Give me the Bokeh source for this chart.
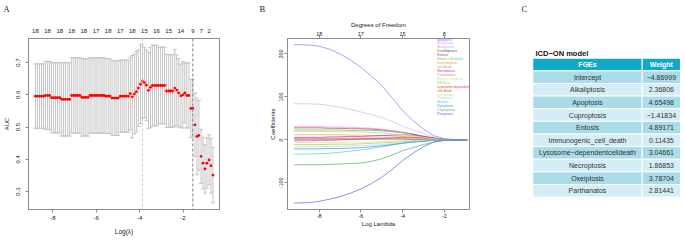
from bokeh.plotting import figure
from bokeh.layouts import row, column
from bokeh.models import (ColumnDataSource, Whisker, TeeHead, Span, Label,
                          LinearAxis, FixedTicker, Range1d)
from bokeh.embed import file_html
from bokeh.resources import INLINE
from bokeh.core.properties import value

FONT = "Liberation Sans"
SERIF = "Liberation Serif"
TXT = "#222222"
BOX = "#8c8c8c"

# ---------------- Panel A data: cross-validated AUC ----------------
log_lambda = [-8.80, -8.71, -8.61, -8.52, -8.43, -8.34, -8.24, -8.15, -8.06, -7.96,
              -7.87, -7.78, -7.68, -7.59, -7.50, -7.41, -7.31, -7.22, -7.13, -7.03,
              -6.94, -6.85, -6.75, -6.66, -6.57, -6.48, -6.38, -6.29, -6.20, -6.10,
              -6.01, -5.92, -5.82, -5.73, -5.64, -5.55, -5.45, -5.36, -5.27, -5.17,
              -5.08, -4.99, -4.89, -4.80, -4.71, -4.62, -4.52, -4.43, -4.34, -4.24,
              -4.15, -4.06, -3.96, -3.87, -3.78, -3.69, -3.59, -3.50, -3.41, -3.31,
              -3.22, -3.13, -3.03, -2.94, -2.85, -2.76, -2.66, -2.57, -2.48, -2.38,
              -2.29, -2.20, -2.10, -2.01, -1.92, -1.83, -1.73, -1.64, -1.55, -1.45,
              -1.36, -1.27, -1.17, -1.08, -0.99, -0.90, -0.80, -0.71, -0.62]
auc_mean = [0.596, 0.596, 0.596, 0.596, 0.596, 0.598, 0.598, 0.598, 0.591, 0.591,
            0.591, 0.591, 0.591, 0.586, 0.586, 0.586, 0.586, 0.586, 0.598, 0.598,
            0.598, 0.598, 0.598, 0.592, 0.592, 0.592, 0.592, 0.598, 0.598, 0.598,
            0.598, 0.598, 0.598, 0.598, 0.598, 0.596, 0.596, 0.596, 0.590, 0.590,
            0.590, 0.590, 0.596, 0.596, 0.596, 0.596, 0.596, 0.604, 0.594, 0.603,
            0.610, 0.621, 0.633, 0.643, 0.638, 0.630, 0.614, 0.623, 0.629, 0.629,
            0.629, 0.629, 0.629, 0.629, 0.629, 0.612, 0.612, 0.612, 0.612, 0.621,
            0.615, 0.606, 0.597, 0.600, 0.606, 0.598, 0.598, 0.558, 0.558, 0.507,
            0.471, 0.474, 0.409, 0.388, 0.370, 0.388, 0.398, 0.380, 0.351]
auc_se = [0.100, 0.100, 0.100, 0.100, 0.100, 0.106, 0.106, 0.106, 0.109, 0.109,
          0.109, 0.109, 0.109, 0.114, 0.114, 0.114, 0.114, 0.114, 0.117, 0.117,
          0.117, 0.117, 0.117, 0.120, 0.120, 0.120, 0.120, 0.117, 0.117, 0.117,
          0.117, 0.117, 0.117, 0.117, 0.117, 0.116, 0.116, 0.116, 0.116, 0.116,
          0.116, 0.116, 0.112, 0.112, 0.112, 0.112, 0.112, 0.113, 0.128, 0.124,
          0.125, 0.119, 0.122, 0.115, 0.110, 0.110, 0.118, 0.125, 0.126, 0.125,
          0.125, 0.119, 0.119, 0.119, 0.119, 0.113, 0.113, 0.113, 0.113, 0.120,
          0.109, 0.106, 0.099, 0.103, 0.093, 0.101, 0.101, 0.090, 0.090, 0.099,
          0.119, 0.108, 0.084, 0.080, 0.075, 0.078, 0.078, 0.085, 0.086]
df_index = [0, 6, 12, 18, 24, 30, 36, 42, 48, 54, 60, 66, 72, 78, 82, 86]
df_labels = ["18", "18", "18", "18", "18", "17", "18", "17", "18", "15", "16", "15", "14", "9", "7", "2"]
lambda_min_log = -3.87
lambda_1se_log = -1.55
a_xticks = [-8, -6, -4, -2]
a_yticks = [0.3, 0.4, 0.5, 0.6, 0.7]

# ---------------- Panel B data: LASSO coefficient paths ----------------
path_loglambda = [-9.2, -8.5, -8, -7.5, -7, -6.5, -6, -5.5, -5, -4.5, -4, -3.5, -3, -2.5, -2, -1.5, -0.9]
path_names = ["Apoptosis", "Autophagy", "Alkaliptosis", "Disulfidptosis", "Entosis",
              "Entotic cell death", "Immunogenic cell death", "Necroptosis", "Parthanatos",
              "Netotic cell death", "NETosis", "Lysosome dependent cell death", "Ferroptosis",
              "Oxeiptosis", "Anoikis", "Pyroptosis", "Cuproptosis", "Paraptosis"]
coef_apoptosis = [222, 221, 218, 211, 200, 186, 169, 149, 127, 98, 68, 45, 25, 10, 3, 0.5, 0]
coef_autophagy = [84, 84, 83, 80, 76, 71, 65, 59, 52, 43, 32, 23, 15, 7, 2, 0, 0]
coef_alkaliptosis = [31, 31, 31, 30, 30, 29, 28, 27, 25, 22, 18, 13, 8, 4, 1, 0, 0]
coef_disulfidptosis = [2, 2, 2, 2, 2, 2, 2, 2, 2, 2, 2, 1, 1, 0, 0, 0, 0]
coef_entosis = [28, 28, 28, 27, 27, 26, 26, 25, 23, 20, 17, 13, 8, 4, 1, 0, 0]
coef_entotic = [23, 23, 23, 23, 23, 22, 22, 22, 21, 19, 17, 14, 9, 5, 1, 0, 0]
coef_immunogenic = [12, 12, 12, 12, 12, 11, 11, 10, 10, 9, 8, 6, 4, 2, 0, 0, 0]
coef_necroptosis = [6, 6, 6, 7, 7, 8, 8, 9, 10, 11, 12, 11, 8, 4, 1, 0, 0]
coef_parthanatos = [4, 4, 4, 4, 4, 4, 4, 4, 4, 4, 4, 4, 3, 2, 0, 0, 0]
coef_netotic = [-6, -6, -6, -6, -6, -5, -5, -5, -4, -3, -2, -1, 0, 0, 0, 0, 0]
coef_netosis = [-11, -11, -11, -10, -10, -10, -9, -8, -7, -6, -4, -3, -2, -1, 0, 0, 0]
coef_lysosome = [-2, -2, -1, -1, 0, 1, 2, 3, 4, 5, 6, 6, 5, 3, 1, 0, 0]
coef_ferroptosis = [20, 20, 20, 19, 19, 19, 18, 17, 16, 14, 12, 9, 6, 3, 1, 0, 0]
coef_oxeiptosis = [-16, -16, -16, -15, -15, -14, -13, -12, -11, -9, -7, -5, -3, -1, 0, 0, 0]
coef_anoikis = [-33, -33, -32, -31, -29, -26, -23, -20, -16, -12, -7, -5, -3, -1, 0, 0, 0]
coef_pyroptosis = [-21, -21, -21, -20, -20, -19, -18, -16, -14, -11, -8, -5, -3, -1, 0, 0, 0]
coef_cuproptosis = [-58, -58, -58, -57, -56, -55, -54, -50, -44, -35, -25, -18, -11, -5, -1, 0, 0]
coef_paraptosis = [-147, -146, -143, -138, -132, -124, -114, -102, -87, -69, -48, -31, -16, -5, -1, 0, 0]
path_colors = ["#a47cf5", "#e2b6ee", "#e0a0ee", "#5a5a5a", "#e2346e", "#62cf62", "#f2a848",
               "#d42ad4", "#c69494", "#d6e39c", "#a6d448", "#f04848", "#b4de76", "#c2d2e2",
               "#5fd0e2", "#4a94f2", "#62b266", "#6a6af2"]
legend_rows = ["Apoptosis", "Autophagy", "Alkaliptosis", "Disulfidptosis", "Entosis",
               "Entotic cell death", "Immunogenic", "cell death", "Necroptosis", "Parthanatos",
               "Netotic cell death", "NETosis", "Lysosome dependent", "cell death", "Ferroptosis",
               "Oxeiptosis", "Anoikis", "Pyroptosis", "Cuproptosis", "Paraptosis"]
legend_row_colors = ["#a47cf5", "#d9b3f2", "#e3a3ee", "#5a5a5a", "#e2346e", "#62cf62", "#f2a848",
                     "#e0a020", "#d42ad4", "#c69494", "#d6e39c", "#a6d448", "#f04848", "#e04a20",
                     "#c4e486", "#c2d2e2", "#5fd0e2", "#4a94f2", "#62b266", "#6a6af2"]
b_xticks = [-8, -6, -4, -2]
b_dof_labels = ["18", "17", "15", "8"]
b_yticks = [-100, 0, 100, 200]

# ---------------- Panel C data: model table ----------------
table_title = "ICD\u2212ON model"
table_header = ["FGEs", "Weight"]
fge_names = ["Intercept", "Alkaliptosis", "Apoptosis", "Cuproptosis", "Entosis",
             "Immunogenic_cell_death", "Lysosome\u2212dependentcelldeath", "Necroptosis",
             "Oxeiptosis", "Parthanatos"]
fge_weights = [-4.86999, 2.36806, 4.65498, -1.41834, 4.89171, 0.11435, 3.04661, 1.86853, 3.78704, 2.81441]
panel_letters = ["A", "B", "C"]


def style_axis(ax, size="6px"):
    ax.axis_line_color = BOX
    ax.major_tick_line_color = BOX
    ax.minor_tick_line_color = None
    ax.major_tick_out = 3
    ax.major_tick_in = 0
    ax.major_label_text_font = FONT
    ax.major_label_text_font_size = size
    ax.major_label_text_color = TXT
    ax.axis_label_text_font = FONT
    ax.axis_label_text_font_style = "normal"
    ax.axis_label_text_color = TXT


def no_align(p):
    if hasattr(p, "frame_align"):
        p.frame_align = False


STRIP_H = 14
ROW_H = 226
BORDER_T, BORDER_B = 24, 31

# ================= Letter strip =================
strip = figure(width=685, height=STRIP_H, x_range=Range1d(0, 685), y_range=Range1d(STRIP_H, 0),
               output_backend="svg", toolbar_location=None, title=None,
               x_axis_type=None, y_axis_type=None,
               min_border_left=0, min_border_right=0, min_border_top=0, min_border_bottom=0)
strip.grid.visible = False
strip.outline_line_color = None
no_align(strip)
LETTER_X = [3, 259, 521]
LETTER_Y = [8, 8, 8]
strip.text(x=LETTER_X, y=LETTER_Y, text=panel_letters, text_font=value(SERIF),
           text_font_size="8.5px", text_color=TXT, text_baseline="middle", text_align="left")

# ================= Panel A =================
AX0, AX1, AY0, AY1 = -9.12, -0.32, 0.244, 0.775
pA = figure(width=258, height=ROW_H, x_range=Range1d(AX0, AX1), y_range=Range1d(AY0, AY1),
            output_backend="svg", toolbar_location=None, title=None,
            min_border_left=28, min_border_right=39, min_border_top=BORDER_T, min_border_bottom=BORDER_B)
pA.grid.visible = False
pA.outline_line_color = BOX

upper = [m + s for m, s in zip(auc_mean, auc_se)]
lower = [m - s for m, s in zip(auc_mean, auc_se)]
srcA = ColumnDataSource(dict(x=log_lambda, y=auc_mean, upper=upper, lower=lower))
EB = "#c4c4c4"
pA.add_layout(Whisker(source=srcA, base="x", upper="upper", lower="lower",
                      line_color=EB, line_width=1,
                      upper_head=TeeHead(size=4, line_color=EB, line_width=1),
                      lower_head=TeeHead(size=4, line_color=EB, line_width=1)))
pA.add_layout(Span(location=lambda_min_log, dimension="height", line_color="#cfcfcf",
                   line_dash="3 2", line_width=1))
pA.add_layout(Span(location=lambda_1se_log, dimension="height", line_color="#808080",
                   line_dash="3 2", line_width=1))
pA.scatter("x", "y", source=srcA, size=2.8, fill_color="#ff0000", line_color=None)

style_axis(pA.xaxis[0])
pA.xaxis.ticker = FixedTicker(ticks=a_xticks)
pA.xaxis.major_label_overrides = {t: str(t) for t in a_xticks}
pA.xaxis.major_label_standoff = 3
pA.xaxis.axis_label = "Log(\u03bb)"
pA.xaxis.axis_label_text_font_size = "6.5px"
pA.xaxis.axis_label_standoff = 5

style_axis(pA.yaxis[0])
pA.yaxis.ticker = FixedTicker(ticks=a_yticks)
pA.yaxis.major_label_overrides = {t: str(t) for t in a_yticks}
pA.yaxis.major_label_orientation = "vertical"
pA.yaxis.major_label_standoff = 5
pA.yaxis.axis_label = "AUC"
pA.yaxis.axis_label_text_font_size = "6px"
pA.yaxis.axis_label_standoff = 4

df_x = [log_lambda[i] for i in df_index]
topA = LinearAxis(ticker=FixedTicker(ticks=df_x),
                  major_label_overrides=dict(zip(df_x, df_labels)))
style_axis(topA)
topA.axis_line_color = None
topA.major_tick_line_color = None
topA.major_tick_out = 0
topA.major_label_standoff = 6
pA.add_layout(topA, "above")

# ================= Panel B =================
BX0, BX1, BY0, BY1 = -9.52, -0.79, -162, 236
B_W, B_L, B_R = 242, 29, 31
pB = figure(width=B_W, height=ROW_H, x_range=Range1d(BX0, BX1), y_range=Range1d(BY0, BY1),
            output_backend="svg", toolbar_location=None, title=None,
            min_border_left=B_L, min_border_right=B_R, min_border_top=BORDER_T, min_border_bottom=BORDER_B)
pB.grid.visible = False
pB.outline_line_color = BOX

paths = [coef_apoptosis, coef_autophagy, coef_alkaliptosis, coef_disulfidptosis, coef_entosis,
         coef_entotic, coef_immunogenic, coef_necroptosis, coef_parthanatos, coef_netotic,
         coef_netosis, coef_lysosome, coef_ferroptosis, coef_oxeiptosis, coef_anoikis,
         coef_pyroptosis, coef_cuproptosis, coef_paraptosis]
srcB = ColumnDataSource(dict(xs=[path_loglambda] * len(paths), ys=paths, color=path_colors,
                             name=path_names))
pB.multi_line("xs", "ys", source=srcB, line_color="color", line_width=1, line_alpha=0.75)

# legend text column (frame-pixel placement converted to data units)
FW_B = B_W - B_L - B_R
FH = ROW_H - BORDER_T - BORDER_B
LEG_PX, LEG_PY0, LEG_STEP = 436.7 - 287, 39.0 - 38, 3.93
leg_x = [BX0 + LEG_PX * (BX1 - BX0) / FW_B] * len(legend_rows)
leg_y = [BY1 - (LEG_PY0 + k * LEG_STEP) * (BY1 - BY0) / FH for k in range(len(legend_rows))]
pB.text(x=leg_x, y=leg_y, text=legend_rows,
        text_color=legend_row_colors, text_font=value(FONT), text_font_size="3.4px",
        text_baseline="middle", text_align="left")

style_axis(pB.xaxis[0], "5.5px")
pB.xaxis.ticker = FixedTicker(ticks=b_xticks)
pB.xaxis.major_label_overrides = {t: str(t) for t in b_xticks}
pB.xaxis.major_label_standoff = 1
pB.xaxis.axis_label = "Log Lambda"
pB.xaxis.axis_label_text_font_size = "6px"
pB.xaxis.axis_label_standoff = 0

style_axis(pB.yaxis[0], "5.5px")
pB.yaxis.ticker = FixedTicker(ticks=b_yticks)
pB.yaxis.major_label_overrides = {t: str(t) for t in b_yticks}
pB.yaxis.major_label_orientation = "vertical"
pB.yaxis.major_label_standoff = 1
pB.yaxis.axis_label = "Coefficients"
pB.yaxis.axis_label_text_font_size = "6px"
pB.yaxis.axis_label_standoff = 1

topB = LinearAxis(ticker=FixedTicker(ticks=b_xticks),
                  major_label_overrides=dict(zip(b_xticks, b_dof_labels)),
                  axis_label="Degrees of Freedom")
style_axis(topB, "5.5px")
topB.major_label_standoff = 0
topB.axis_label_text_font_size = "6px"
topB.axis_label_standoff = 1
pB.add_layout(topB, "above")

# ================= Panel C =================
C_W = 185
CX0, CX1 = -0.2952, 1.3958
CY_TOP, CY_BOT = -2.06, 11.48
pC = figure(width=C_W, height=ROW_H, x_range=Range1d(CX0, CX1), y_range=Range1d(CY_BOT, CY_TOP),
            output_backend="svg", toolbar_location=None, title=None,
            x_axis_type=None, y_axis_type=None,
            min_border_left=0, min_border_right=0, min_border_top=BORDER_T, min_border_bottom=BORDER_B)
pC.grid.visible = False
pC.outline_line_color = None

COL_X = [0.5, 1.175]
COL_W = [1.0, 0.35]
HEAD_C, DARK_C, LIGHT_C = "#12a9c9", "#a9dbe8", "#d5eef5"
cx, cy, cw, cf = [], [], [], []
for r in range(len(fge_names) + 1):
    for c in range(2):
        cx.append(COL_X[c]); cy.append(r); cw.append(COL_W[c])
        cf.append(HEAD_C if r == 0 else (DARK_C if r % 2 == 1 else LIGHT_C))
pC.rect(x=cx, y=cy, width=cw, height=1, fill_color=cf, line_color="white", line_width=1)

pC.text(x=COL_X, y=[0, 0], text=table_header, text_color="white", text_font=value(FONT),
        text_font_style="bold", text_font_size="7px", text_align="center", text_baseline="middle")
rows_y = list(range(1, len(fge_names) + 1))
weight_txt = [f"{w:.5f}".replace("-", "\u2212") for w in fge_weights]
pC.text(x=[COL_X[0]] * len(fge_names), y=rows_y, text=fge_names, text_color="#333333",
        text_font=value(FONT), text_font_size="7px", text_align="center", text_baseline="middle")
pC.text(x=[COL_X[1]] * len(fge_names), y=rows_y, text=weight_txt, text_color="#333333",
        text_font=value(FONT), text_font_size="7px", text_align="center", text_baseline="middle")
pC.text(x=[0.025], y=[-0.9], text=[table_title], text_font=value(FONT), text_font_size="7.5px",
        text_font_style="bold", text_color="#111111", text_baseline="middle", text_align="left")

layout = column(strip, row(pA, pB, pC))
open("out.html", "w").write(file_html(layout, INLINE))
